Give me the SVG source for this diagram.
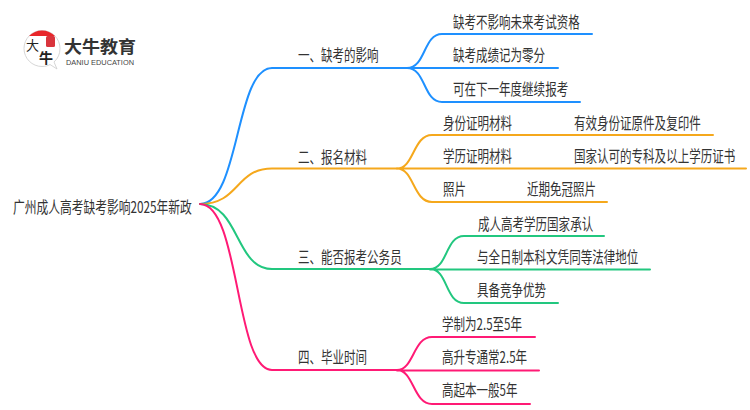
<svg xmlns="http://www.w3.org/2000/svg" width="750" height="410" viewBox="0 0 750 410">
<style>
text{font-family:"Noto Sans CJK SC","Noto Sans",sans-serif;fill:#333}
.t{font-size:16px;transform:scale(.72,1)}
.c{fill:none;stroke-width:2;stroke-linecap:round}
.b{stroke:#1e90ff}.o{stroke:#f5a81c}.g{stroke:#22c77f}.p{stroke:#ff1a75}
</style>
<rect width="750" height="410" fill="#fff"/>
<g id="connectors">
<path class="c b" d="M200 204C240 204 235 68 272 68H407"/>
<path class="c b" d="M407 68C426 68 423 34 442 34H592M407 68H558M407 68C426 68 423 102 442 102H580"/>
<path class="c o" d="M200 204C240 204 235 168.500 272 168.500H397"/>
<path class="c o" d="M397 168.500C414 168.500 413 135 432 135H713M397 168.500H746M397 168.500C414 168.500 413 202 432 202H607"/>
<path class="c g" d="M200 204C240 204 235 269 272 269H430"/>
<path class="c g" d="M430 269C448 269 445 236 464 236H604M430 269.500H650M430 269C448 269 445 303 464 303H558"/>
<path class="c p" d="M200 204C240 204 235 370 272 370H397"/>
<path class="c p" d="M397 370C414 370 413 337 432 337H535M397 370.500H539M397 370C414 370 413 404 432 404H530"/>
</g>
<g id="logo">
<path d="M42 30.500a18 18 0 0 0-18 18a18 18 0 0 0 18 18c3 0 6-.7 8-2l7 4.500-3-7a18 18 0 0 0 6-13.500a18 18 0 0 0-18-18z" fill="#fff" stroke="#ccc" stroke-width=".8"/>
<path d="M29 36a18 18 0 0 1 26 0z" fill="#e8262a"/>
<rect x="46" y="36" width="9" height="11" rx="1.500" fill="#d9343c"/>
<text style="font-size:13px;fill:#222"><tspan x="26" y="50">大</tspan><tspan x="39" y="63" font-size="14" font-weight="700">牛</tspan></text>
<text x="64" y="53" textLength="72" lengthAdjust="spacingAndGlyphs" style="font-size:17px;font-weight:700">大牛教育</text>
<text x="66" y="64.500" textLength="68" lengthAdjust="spacingAndGlyphs" style="font-family:'Liberation Sans',sans-serif;font-size:7px;fill:#444">DANIU EDUCATION</text>
</g>
<g id="root" transform="translate(13 212.500)"><text class="t" style="transform:scale(.735,1)">广州成人高考缺考影响2025年新政</text></g>
<g id="n1" transform="translate(298 60.500)"><text class="t">一、缺考的影响</text></g>
<g id="n1a" transform="translate(453 27.500)"><text class="t">缺考不影响未来考试资格</text></g>
<g id="n1b" transform="translate(453 60.500)"><text class="t">缺考成绩记为零分</text></g>
<g id="n1c" transform="translate(453 94.500)"><text class="t">可在下一年度继续报考</text></g>
<g id="n2" transform="translate(298 162.500)"><text class="t">二、报名材料</text></g>
<g id="n2a" transform="translate(443 128.500)"><text class="t">身份证明材料</text></g>
<g id="n2a1" transform="translate(574 128.500)"><text class="t">有效身份证原件及复印件</text></g>
<g id="n2b" transform="translate(443 161.500)"><text class="t">学历证明材料</text></g>
<g id="n2b1" transform="translate(574 161.500)"><text class="t">国家认可的专科及以上学历证书</text></g>
<g id="n2c" transform="translate(443 195)"><text class="t">照片</text></g>
<g id="n2c1" transform="translate(527 195)"><text class="t">近期免冠照片</text></g>
<g id="n3" transform="translate(298 262.500)"><text class="t">三、能否报考公务员</text></g>
<g id="n3a" transform="translate(478 229.500)"><text class="t">成人高考学历国家承认</text></g>
<g id="n3b" transform="translate(477 262.500)"><text class="t">与全日制本科文凭同等法律地位</text></g>
<g id="n3c" transform="translate(477 295.500)"><text class="t">具备竞争优势</text></g>
<g id="n4" transform="translate(298 362.500)"><text class="t">四、毕业时间</text></g>
<g id="n4a" transform="translate(442 329.500)"><text class="t">学制为2.5至5年</text></g>
<g id="n4b" transform="translate(442 362.500)"><text class="t">高升专通常2.5年</text></g>
<g id="n4c" transform="translate(442 395.500)"><text class="t">高起本一般5年</text></g>
</svg>
